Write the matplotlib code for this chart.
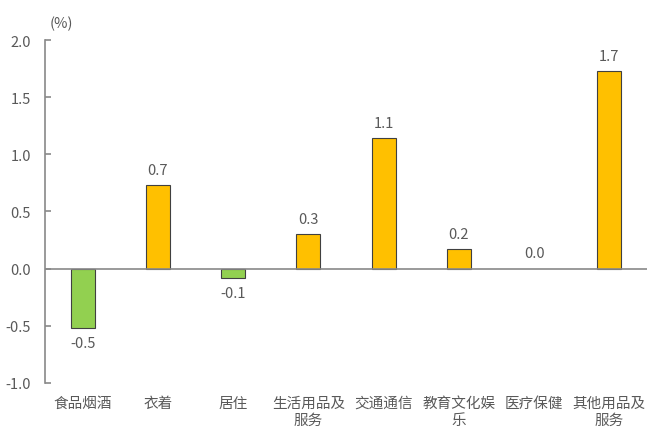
import matplotlib
matplotlib.use("Agg")
import matplotlib.pyplot as plt

plt.rcParams['font.family'] = ['Noto Sans CJK SC', 'DejaVu Sans']

categories = ["食品烟酒", "衣着", "居住", "生活用品及\n服务", "交通通信", "教育文化娱\n乐", "医疗保健", "其他用品及\n服务"]
values = [-0.52, 0.73, -0.08, 0.30, 1.14, 0.17, 0.0, 1.73]
labels = ["-0.5", "0.7", "-0.1", "0.3", "1.1", "0.2", "0.0", "1.7"]
yticks = [-1.0, -0.5, 0.0, 0.5, 1.0, 1.5, 2.0]

text_color = "#595959"
axis_color = "#898989"
pos_color = "#FFC000"
neg_color = "#92D050"

fig = plt.figure(figsize=(6.6, 4.39), dpi=100)
ax = fig.add_axes([0.0682, 0.1253, 0.9121, 0.7813])

x = list(range(len(categories)))
colors = [neg_color if v < 0 else pos_color for v in values]
edges = ["#404040" if v != 0 else "none" for v in values]
ax.bar(x, values, width=0.32, color=colors, edgecolor=edges, linewidth=0.8, zorder=2)

for xi, v, lab in zip(x, values, labels):
    if v < 0:
        ax.annotate(lab, (xi, v), xytext=(0, -6), textcoords="offset points",
                    ha="center", va="top", fontsize=10.5, color=text_color)
    else:
        ax.annotate(lab, (xi, v), xytext=(0, 6), textcoords="offset points",
                    ha="center", va="bottom", fontsize=10.5, color=text_color)

ax.set_xlim(-0.5, len(categories) - 0.5)
ax.set_ylim(-1.0, 2.0)
ax.set_yticks(yticks)
ax.set_yticklabels([f"{t:.1f}" for t in yticks])
ax.axhline(0, color=axis_color, linewidth=1.2, zorder=3)

for s in ["top", "right", "bottom"]:
    ax.spines[s].set_visible(False)
ax.spines["left"].set_color(axis_color)
ax.spines["left"].set_linewidth(1.2)

ax.tick_params(axis="y", direction="in", length=4, width=1.2, color=axis_color,
               labelcolor=text_color, labelsize=10.5, pad=10)
ax.set_xticks(x)
ax.set_xticklabels(categories, fontsize=10.5, color=text_color, linespacing=1.3, va="top")
ax.tick_params(axis="x", length=0, pad=9)

fig.text(61 / 660, 1 - 24 / 439, "(%)", ha="center", va="center", fontsize=10.5, color=text_color)

fig.savefig("out.png", dpi=100)
